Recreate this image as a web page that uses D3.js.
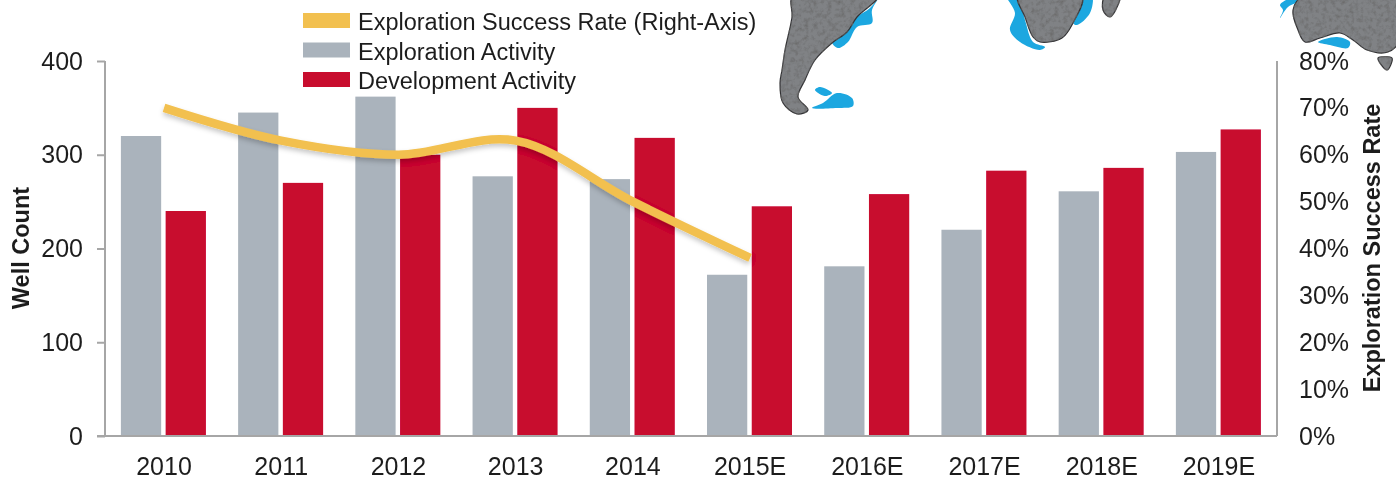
<!DOCTYPE html>
<html>
<head>
<meta charset="utf-8">
<script src="https://cdn.jsdelivr.net/npm/d3@7"></script>
<style>
  html, body { margin: 0; padding: 0; background: #fff; }
  text { font-family: "Liberation Sans", Arial, sans-serif; fill: #1f1f1f; }
</style>
</head>
<body>
<div id="chart"></div>
<script>
// chart values
var years = ["2010", "2011", "2012", "2013", "2014", "2015E", "2016E", "2017E", "2018E", "2019E"];
var exploration = [320, 345, 362, 277, 274, 172, 181, 220, 261, 303];
var development = [240, 270, 300, 350, 318, 245, 258, 283, 286, 327];
var successRate = [70, 63, 60, 63, 50, 38];
var leftTicks = [0, 100, 200, 300, 400];
var rightTicks = [0, 10, 20, 30, 40, 50, 60, 70, 80];
var legendNames = ["Exploration Success Rate (Right-Axis)", "Exploration Activity", "Development Activity"];
var legendColors = ["#f2c050", "#aab3bc", "#c8072f"];

// background map pieces (decoration, pixel outlines)
var landShapes = [
  [[793,-4],[792,17],[785,50],[782,70],[780,83],[783,103],[797,114],[808,110],[798,97],[805,80],[815,60],[832,43],[847,32],[857,17],[878,-4]],
  [[1018,-4],[1025,17],[1033,37],[1040,42],[1062,38],[1073,23],[1082,-4]],
  [[1105,-4],[1103,10],[1110,17],[1118,5],[1120,-4]],
  [[1303,-4],[1293,10],[1298,30],[1305,42],[1320,38],[1340,33],[1353,40],[1367,50],[1388,52],[1400,40],[1400,-4]],
  [[1378,58],[1392,58],[1387,70]]
];
var shelfShapes = [
  [[880,-4],[872,10],[872,23],[857,27],[848,42],[838,48],[832,42],[847,30],[857,17],[870,8]],
  [[812,108],[823,103],[837,93],[852,98],[853,106],[837,108]],
  [[815,90],[820,87],[832,93],[825,96]],
  [[1007,-4],[1015,13],[1010,30],[1020,42],[1040,50],[1045,47],[1033,42],[1025,20],[1018,-4]],
  [[1082,-4],[1092,-4],[1090,13],[1077,25],[1073,23]],
  [[1280,5],[1292,-2],[1302,0],[1288,7],[1280,18],[1283,10]],
  [[1318,42],[1337,37],[1350,42],[1348,48],[1330,45]]
];

var width = 1396, height = 481;
var margin = {top: 61, right: 119, bottom: 45, left: 105};

var svg = d3.select("#chart").append("svg")
    .attr("width", width)
    .attr("height", height)
    .style("display", "block");

var defs = svg.append("defs");
var soft = defs.append("filter").attr("id", "soft");
soft.append("feGaussianBlur").attr("stdDeviation", 0.55);

// speckled rock look for the land
var rock = defs.append("filter").attr("id", "rock").attr("x", "-5%").attr("y", "-5%").attr("width", "110%").attr("height", "110%");
rock.append("feTurbulence").attr("type", "fractalNoise").attr("baseFrequency", 0.22).attr("numOctaves", 3).attr("seed", 4).attr("result", "n");
rock.append("feColorMatrix").attr("in", "n").attr("type", "matrix")
    .attr("values", "0 0 0 0 0.15  0 0 0 0 0.15  0 0 0 0 0.15  2.2 0 0 0 -0.95").attr("result", "spots");
rock.append("feComposite").attr("in", "spots").attr("in2", "SourceGraphic").attr("operator", "in").attr("result", "clip");
var rockMerge = rock.append("feMerge");
rockMerge.append("feMergeNode").attr("in", "SourceGraphic");
rockMerge.append("feMergeNode").attr("in", "clip");

var lineShadow = defs.append("filter").attr("id", "lineShadow").attr("x", "-5%").attr("y", "-20%").attr("width", "110%").attr("height", "140%");
lineShadow.append("feDropShadow").attr("dx", 0).attr("dy", 3).attr("stdDeviation", 2.5)
    .attr("flood-color", "#000").attr("flood-opacity", 0.22);

var page = svg.append("g").attr("filter", "url(#soft)");

// scales
var x = d3.scaleBand().domain(years).range([105.4, 1277.6]);
var x1 = d3.scaleBand().domain(["exploration", "development"]).range([15.5, 100.5]).paddingInner(0.1);
var y = d3.scaleLinear().domain([0, 400]).range([height - margin.bottom, margin.top]);
var yRight = d3.scaleLinear().domain([0, 80]).range([height - margin.bottom, margin.top]);

// map
var outline = d3.line().curve(d3.curveCatmullRomClosed.alpha(0.5));
page.append("g").selectAll("path").data(shelfShapes).enter().append("path")
    .attr("d", outline)
    .attr("fill", "#1aa7e0");
page.append("g").attr("filter", "url(#rock)").selectAll("path").data(landShapes).enter().append("path")
    .attr("d", outline)
    .attr("fill", "#808285")
    .attr("stroke", "#333335")
    .attr("stroke-width", 1.2);

// bars
var groups = page.append("g").selectAll("g").data(years).enter().append("g")
    .attr("transform", function(d) { return "translate(" + x(d) + ",0)"; });

groups.append("rect")
    .attr("x", x1("exploration"))
    .attr("width", x1.bandwidth())
    .attr("y", function(d, i) { return y(exploration[i]); })
    .attr("height", function(d, i) { return y(0) - y(exploration[i]); })
    .attr("fill", legendColors[1]);

groups.append("rect")
    .attr("x", x1("development"))
    .attr("width", x1.bandwidth())
    .attr("y", function(d, i) { return y(development[i]); })
    .attr("height", function(d, i) { return y(0) - y(development[i]); })
    .attr("fill", legendColors[2]);

// success rate line
var line = d3.line()
    .x(function(d, i) { return x(years[i]) + x.bandwidth() / 2; })
    .y(function(d) { return yRight(d); })
    .curve(d3.curveCatmullRom.alpha(0.5));

page.append("path")
    .datum(successRate)
    .attr("d", line)
    .attr("fill", "none")
    .attr("stroke", legendColors[0])
    .attr("stroke-width", 8.5)
    .attr("filter", "url(#lineShadow)");

// axes
var axisColor = "#a6a6a6";

var xAxis = page.append("g")
    .attr("transform", "translate(0," + y(0) + ")")
    .call(d3.axisBottom(x).tickSize(0).tickPadding(21));
xAxis.select(".domain").attr("d", "M97,0H1277").attr("stroke", axisColor).attr("stroke-width", 2);
xAxis.selectAll("text").style("font-size", "25px");

var yAxis = page.append("g")
    .attr("transform", "translate(" + margin.left + ",0)")
    .call(d3.axisLeft(y).tickValues(leftTicks).tickSize(8).tickPadding(14));
yAxis.select(".domain").attr("d", "M0," + y(400) + "V" + y(0)).attr("stroke", axisColor).attr("stroke-width", 2);
yAxis.selectAll("line").attr("stroke", axisColor).attr("stroke-width", 2);
yAxis.selectAll("text").style("font-size", "25px");

var yAxisRight = page.append("g")
    .attr("transform", "translate(1277,0)")
    .call(d3.axisRight(yRight).tickValues(rightTicks).tickSize(0).tickPadding(22)
      .tickFormat(function(d) { return d + "%"; }));
yAxisRight.select(".domain").attr("d", "M0," + yRight(80) + "V" + yRight(0)).attr("stroke", axisColor).attr("stroke-width", 2);
yAxisRight.selectAll("text").style("font-size", "25px");

// axis titles
page.append("text")
    .attr("transform", "translate(29,248) rotate(-90)")
    .attr("text-anchor", "middle")
    .style("font-size", "23.5px")
    .style("font-weight", "bold")
    .text("Well Count");

page.append("text")
    .attr("transform", "translate(1380,248) rotate(-90)")
    .attr("text-anchor", "middle")
    .style("font-size", "23.5px")
    .style("font-weight", "bold")
    .text("Exploration Success Rate");

// legend
var legend = page.append("g").selectAll("g").data(legendNames).enter().append("g")
    .attr("transform", function(d, i) { return "translate(303," + (13 + i * 29.5) + ")"; });
legend.append("rect")
    .attr("width", 47)
    .attr("height", 15)
    .attr("fill", function(d, i) { return legendColors[i]; });
legend.append("text")
    .attr("x", 55)
    .attr("y", 17)
    .style("font-size", "23.5px")
    .text(function(d) { return d; });
</script>
</body>
</html>
